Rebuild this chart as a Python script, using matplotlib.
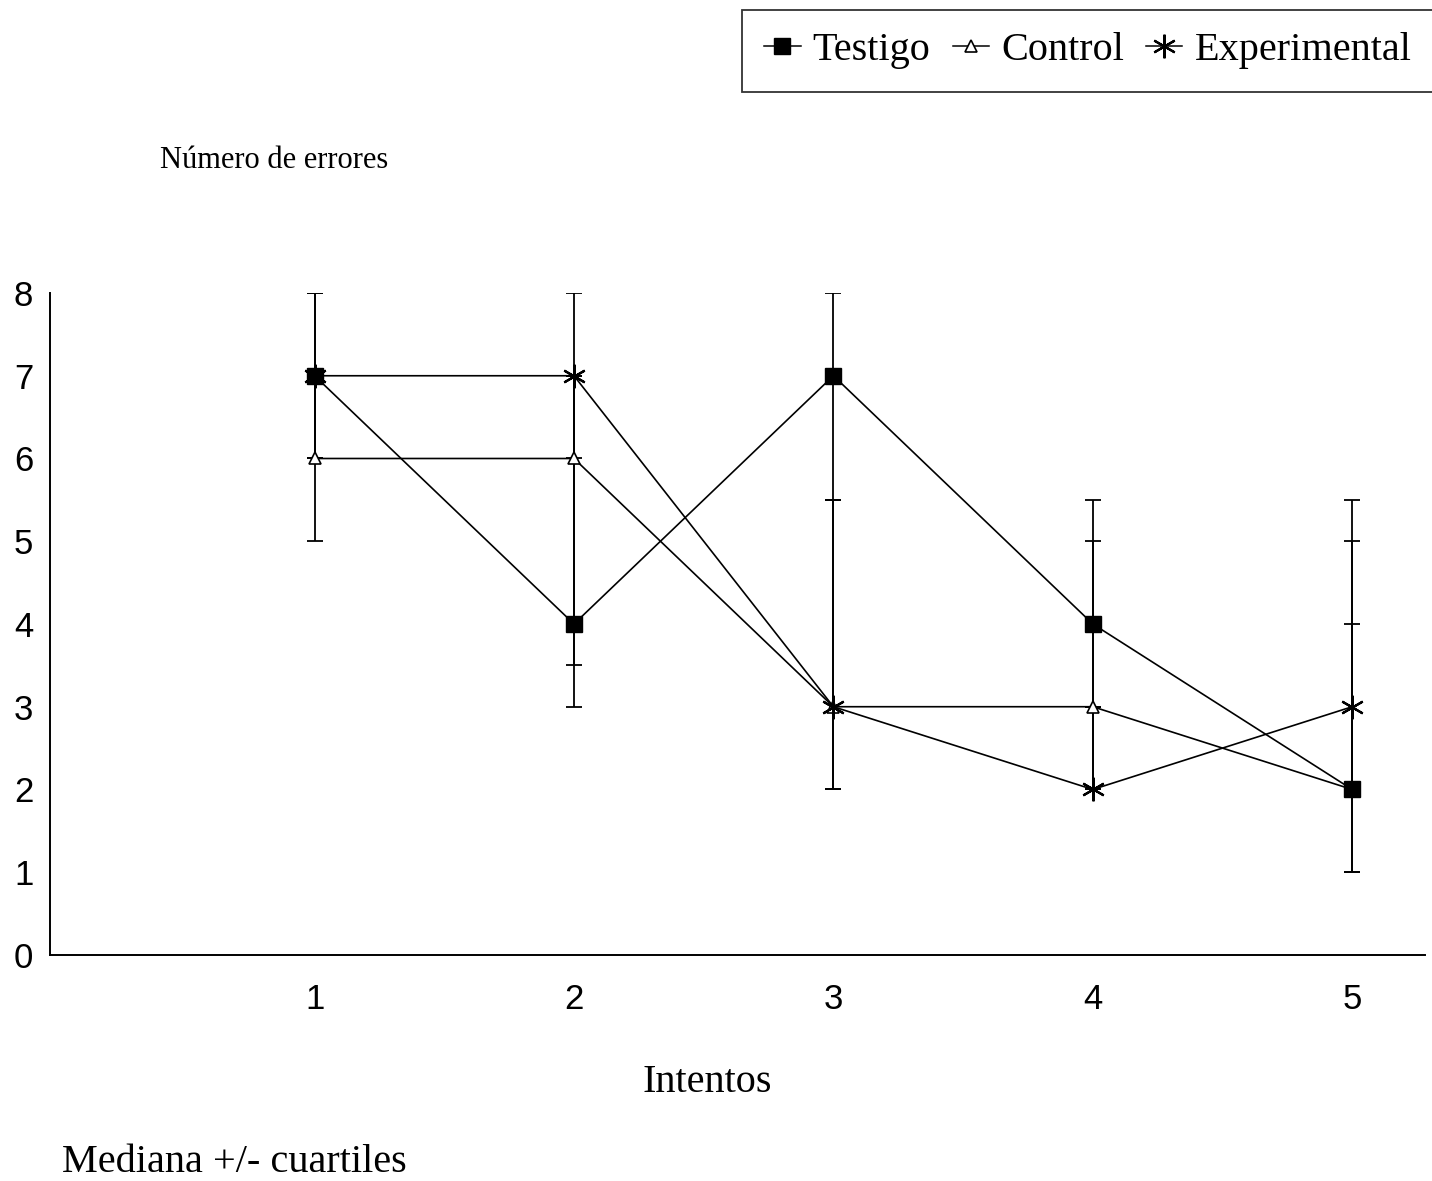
import matplotlib
matplotlib.use("Agg")
import matplotlib.pyplot as plt
from matplotlib.lines import Line2D

intentos = [1, 2, 3, 4, 5]

# medianas y cuartiles por grupo
testigo_med = [7, 4, 7, 4, 2]
testigo_q1 = [6, 3.5, 5.5, 3, 1]
testigo_q3 = [8, 7, 8, 5.5, 4]

control_med = [6, 6, 3, 3, 2]
control_q1 = [5, 3, 2, 2, 1]
control_q3 = [7, 7, 5.5, 5, 5]

experimental_med = [7, 7, 3, 2, 3]
experimental_q1 = [6, 6, 2, 2, 2]
experimental_q3 = [8, 8, 5.5, 3, 5.5]

y_ticks = [0, 1, 2, 3, 4, 5, 6, 7, 8]

serif = "Liberation Serif"
sans = "Liberation Sans"

fig = plt.figure(figsize=(14.32, 11.81), dpi=100)
ax = fig.add_axes([0.0349, 0.1914, 0.9601, 0.5605])

# (nombre, mediana, q1, q3, estilo, orden de dibujo)
grupos = [
    ("Testigo", testigo_med, testigo_q1, testigo_q3,
     dict(marker="s", ms=11, mfc="black", mec="black"), 5),
    ("Control", control_med, control_q1, control_q3,
     dict(marker="^", ms=9, mfc="white", mec="black", mew=1.2), 3),
    ("Experimental", experimental_med, experimental_q1, experimental_q3,
     dict(marker=(6, 2, 0), ms=17, mfc="black", mec="black", mew=1.6), 4),
]

handles = []
for nombre, med, q1, q3, estilo, z in grupos:
    err_lo = [m - a for m, a in zip(med, q1)]
    err_hi = [b - m for m, b in zip(med, q3)]
    ax.errorbar(intentos, med, yerr=[err_lo, err_hi], fmt="none",
                ecolor="black", elinewidth=1.3, capsize=6, capthick=1.3,
                zorder=2)
    ax.plot(intentos, med, color="black", lw=1.2, zorder=z, **estilo)
    handles.append(Line2D([], [], color="black", lw=1.1, label=nombre, **estilo))

ax.set_xlim(-0.02, 5.28)
ax.set_ylim(0, 8)
ax.set_xticks(intentos)
ax.set_yticks(y_ticks)
ax.tick_params(length=0, labelsize=25)
ax.tick_params(axis="x", pad=20)
ax.tick_params(axis="y", pad=12)
for lab in ax.get_xticklabels() + ax.get_yticklabels():
    lab.set_fontfamily(sans)

for lado in ["top", "right"]:
    ax.spines[lado].set_visible(False)
for lado in ["left", "bottom"]:
    ax.spines[lado].set_linewidth(1.4)

fig.text(0.112, 0.8645, "Número de errores", fontsize=22, family=serif,
         va="center", ha="left")
fig.text(0.494, 0.083, "Intentos", fontsize=29, family=serif,
         va="center", ha="center")
fig.text(0.043, 0.016, "Mediana +/- cuartiles", fontsize=29, family=serif,
         va="center", ha="left")

leg = fig.legend(handles=handles, ncol=3, loc="upper right",
                 bbox_to_anchor=(1.001, 0.9915), frameon=True, fancybox=False,
                 handlelength=0.9, handletextpad=0.3, columnspacing=0.55,
                 borderpad=0.55, borderaxespad=0.0,
                 prop={"family": serif, "size": 29})
leg.get_frame().set_edgecolor("black")
leg.get_frame().set_linewidth(1.3)

fig.savefig("out.png", dpi=100)
